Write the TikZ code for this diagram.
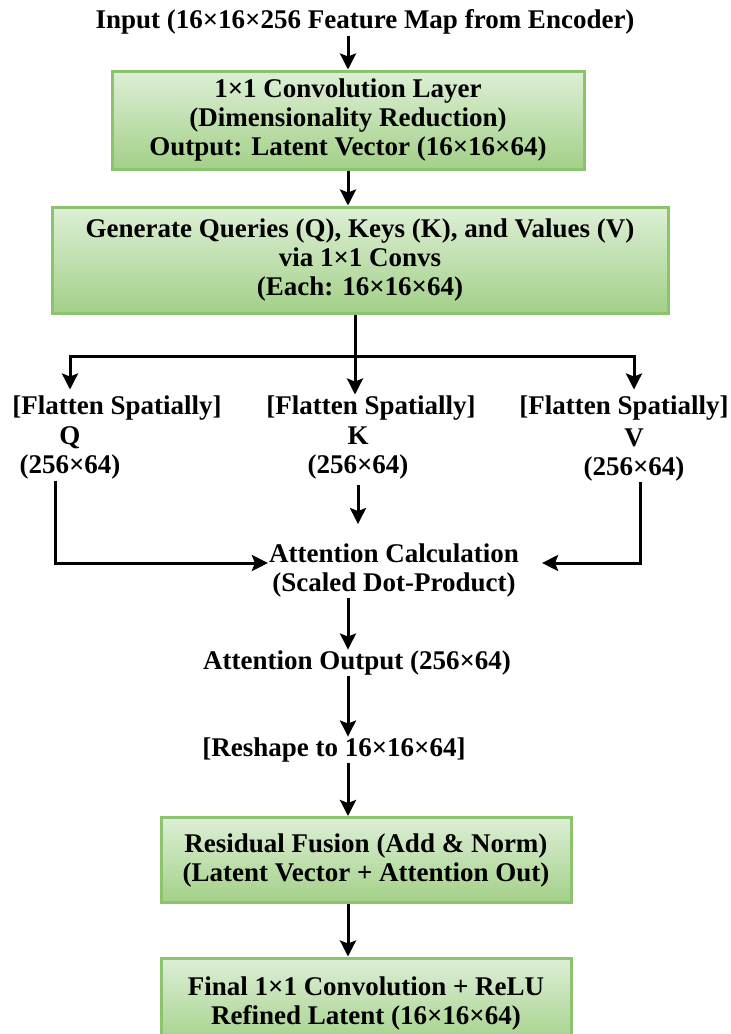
\documentclass[tikz,border=0pt]{standalone}
\usepackage{fontspec}
\setmainfont{Liberation Serif}
\usepackage{xcolor}
\definecolor{boxEdge}{HTML}{8CC46E}
\definecolor{boxTop}{HTML}{DDEFD6}
\definecolor{boxBottom}{HTML}{A3D088}
\usepackage{tikz}
\usetikzlibrary{arrows.meta, positioning, calc}
\tikzset{
  greenbox/.style={draw=boxEdge, line width=3pt, top color=boxTop, bottom color=boxBottom, align=center, inner sep=0pt},
  plain/.style={align=center, inner sep=1pt},
  flow/.style={-{Stealth[length=16pt, width=16pt, inset=3pt]}, line width=3pt},
}

\begin{document}
\begin{tikzpicture}[x=1pt, y=-1pt, font=\fontsize{27}{29}\selectfont\bfseries]
        \clip (0,0) rectangle (731,1034);
        % Nodes
        \node[plain] (input) at (365,22) {Input (16×16×256 Feature Map from Encoder)};
        \node[greenbox, minimum width=472pt, minimum height=98pt] (conv) at (348,120) {1×1 Convolution Layer\\(Dimensionality Reduction)\\Output: Latent Vector (16×16×64)};
        \node[greenbox, minimum width=616pt, minimum height=106pt] (qkv) at (360,260) {Generate Queries (Q), Keys (K), and Values (V)\\via 1×1 Convs\\(Each: 16×16×64)};
        \coordinate (split) at (355,356);

        \node[plain] (flatQ) at (117,408) {[Flatten Spatially]};
        \node[plain] (flatK) at (371,408) {[Flatten Spatially]};
        \node[plain] (flatV) at (624,408) {[Flatten Spatially]};
        \node[plain] (shapeQ) at (70,453) {Q\\(256×64)};
        \node[plain] (shapeK) at (358,453) {K\\(256×64)};
        \node[plain] (shapeV) at (634,455) {V\\(256×64)};

        \node[plain] (attn) at (394,570) {Attention Calculation\\(Scaled Dot-Product)};
        \node[plain] (attnout) at (357,663) {Attention Output (256×64)};
        \node[plain] (reshape) at (334,750) {[Reshape to 16×16×64]};
        \node[greenbox, minimum width=410pt, minimum height=85pt] (fusion) at (366,860) {Residual Fusion (Add \& Norm)\\(Latent Vector + Attention Out)};
        \node[greenbox, minimum width=410pt, minimum height=90pt] (final) at (366,1003) {Final 1×1 Convolution + ReLU\\Refined Latent (16×16×64)};

        % Paths
        \draw[flow] (input.south -| conv) -- (conv.north);
        \draw[flow] (conv.south) -- (conv.south |- qkv.north);
        \draw[line width=3pt] (qkv.south -| split) -- (split);
        \draw[flow, shorten >=5pt] (split) -| (flatQ.north -| shapeQ);
        \draw[flow, shorten >=5pt] (split) -| (flatV.north -| shapeV);
        \draw[flow] (split) -- (flatK.north -| split);

        \draw[flow] ([xshift=-15pt]shapeQ.south) |- ([yshift=7pt]attn.west);
        \draw[flow] ([xshift=6pt]shapeV.south) |- ([xshift=22pt, yshift=7pt]attn.east);
        \draw[flow, shorten <=5pt, shorten >=18pt] (shapeK.south) -- (attn.north -| shapeK);

        \draw[flow] (attn.south -| conv) -- (attnout.north -| conv);
        \draw[flow] (attnout.south -| conv) -- (reshape.north -| conv);
        \draw[flow] (reshape.south -| conv) -- (fusion.north -| conv);
        \draw[flow] (fusion.south -| conv) -- (final.north -| conv);
    \end{tikzpicture}
\end{document}
